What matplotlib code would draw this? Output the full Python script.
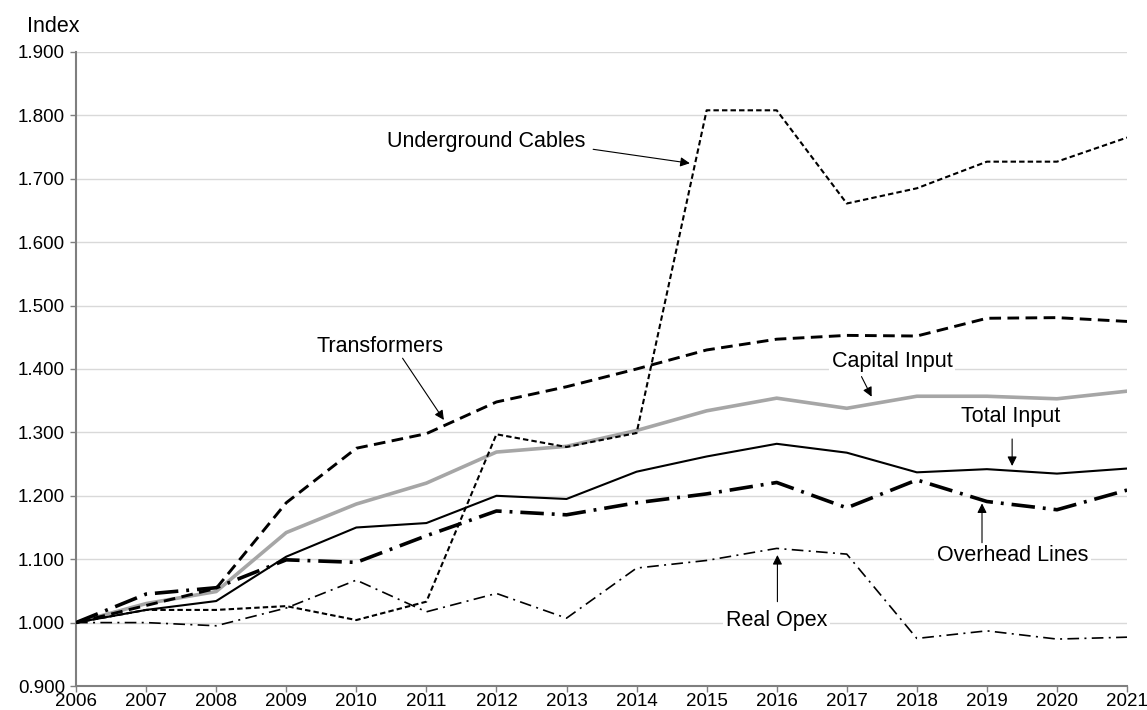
import numpy as np
import matplotlib.pyplot as plt
from matplotlib.ticker import FormatStrFormatter

plt.rcParams['font.family'] = ['Liberation Sans', 'DejaVu Sans']

years = list(range(2006, 2022))

underground_cables = [1.000, 1.020, 1.020, 1.026, 1.004, 1.033, 1.297, 1.277, 1.299, 1.808,
                      1.808, 1.661, 1.685, 1.727, 1.727, 1.765]
transformers = [1.000, 1.027, 1.054, 1.189, 1.275, 1.298, 1.348, 1.372, 1.400, 1.430,
                1.447, 1.453, 1.452, 1.480, 1.481, 1.475]
capital_input = [1.000, 1.030, 1.049, 1.142, 1.187, 1.220, 1.269, 1.278, 1.303, 1.334,
                 1.354, 1.338, 1.357, 1.357, 1.353, 1.365]
total_input = [1.000, 1.020, 1.034, 1.104, 1.150, 1.157, 1.200, 1.195, 1.238, 1.262,
               1.282, 1.268, 1.237, 1.242, 1.235, 1.243]
overhead_lines = [1.000, 1.045, 1.055, 1.099, 1.095, 1.137, 1.176, 1.170, 1.189, 1.203,
                  1.221, 1.181, 1.225, 1.191, 1.178, 1.209]
real_opex = [1.000, 1.000, 0.995, 1.023, 1.067, 1.017, 1.046, 1.007, 1.086, 1.098,
             1.117, 1.108, 0.975, 0.987, 0.974, 0.977]

fig = plt.figure(figsize=(11.47, 7.10), dpi=100)
ax = fig.add_axes([0.0663, 0.0338, 0.9163, 0.893])

ax.plot(years, capital_input, color='#a6a6a6', lw=2.6, zorder=3)
ax.plot(years, total_input, color='black', lw=1.5, zorder=4)
ax.plot(years, transformers, color='black', lw=2.1, linestyle=(0, (4.0, 2.2)), zorder=4)
ax.plot(years, underground_cables, color='black', lw=1.5, linestyle=(0, (2.6, 1.5)), zorder=4)
ax.plot(years, overhead_lines, color='black', lw=2.6, linestyle=(0, (6.5, 2.2, 0.8, 2.2)), zorder=4)
ax.plot(years, real_opex, color='black', lw=1.2, linestyle=(0, (7.0, 3.2, 1.2, 3.2)), zorder=4)

ax.set_xlim(2006, 2021)
ax.set_ylim(0.9, 1.9)
ax.set_xticks(years)
ax.set_yticks(np.arange(0.9, 1.91, 0.1))
ax.yaxis.set_major_formatter(FormatStrFormatter('%.3f'))
ax.grid(axis='y', color='#d9d9d9', lw=1.0)
ax.set_axisbelow(True)

for s in ['top', 'right']:
    ax.spines[s].set_visible(False)
for s in ['left', 'bottom']:
    ax.spines[s].set_color('#7f7f7f')
    ax.spines[s].set_linewidth(1.5)
ax.tick_params(axis='both', direction='out', length=4, width=1, color='#7f7f7f',
               labelsize=13.5)
ax.tick_params(axis='x', pad=1)
ax.tick_params(axis='y', pad=4)

fig.text(27 / 1147, 1 - 27 / 710, 'Index', fontsize=15.5, ha='left', va='center')

box = dict(facecolor='white', edgecolor='none', pad=2)
arrow = dict(arrowstyle='-|>', color='black', lw=0.8, mutation_scale=14, shrinkA=0, shrinkB=0)

ax.text(2011.86, 1.7585, 'Underground Cables', fontsize=15.5, ha='center', va='center', zorder=5)
ax.annotate('', xy=(2014.76, 1.7245), xytext=(2013.38, 1.7465), arrowprops=arrow, zorder=6)

ax.text(2010.34, 1.435, 'Transformers', fontsize=15.5, ha='center', va='center', zorder=5)
ax.annotate('', xy=(2011.25, 1.3196), xytext=(2010.66, 1.417), arrowprops=arrow, zorder=6)

ax.text(2017.65, 1.4115, 'Capital Input', fontsize=15.5, ha='center', va='center', bbox=box, zorder=5)
ax.annotate('', xy=(2017.355, 1.3563), xytext=(2017.21, 1.388), arrowprops=arrow, zorder=6)

ax.text(2019.34, 1.3243, 'Total Input', fontsize=15.5, ha='center', va='center', zorder=5)
ax.annotate('', xy=(2019.36, 1.247), xytext=(2019.36, 1.2896), arrowprops=arrow, zorder=6)

ax.text(2019.37, 1.1055, 'Overhead Lines', fontsize=15.5, ha='center', va='center', bbox=box, zorder=5)
ax.annotate('', xy=(2018.93, 1.188), xytext=(2018.93, 1.126), arrowprops=arrow, zorder=6)

ax.text(2016.0, 1.004, 'Real Opex', fontsize=15.5, ha='center', va='center', bbox=box, zorder=5)
ax.annotate('', xy=(2016.01, 1.1066), xytext=(2016.01, 1.033), arrowprops=arrow, zorder=6)

fig.savefig('out.png', dpi=100)
